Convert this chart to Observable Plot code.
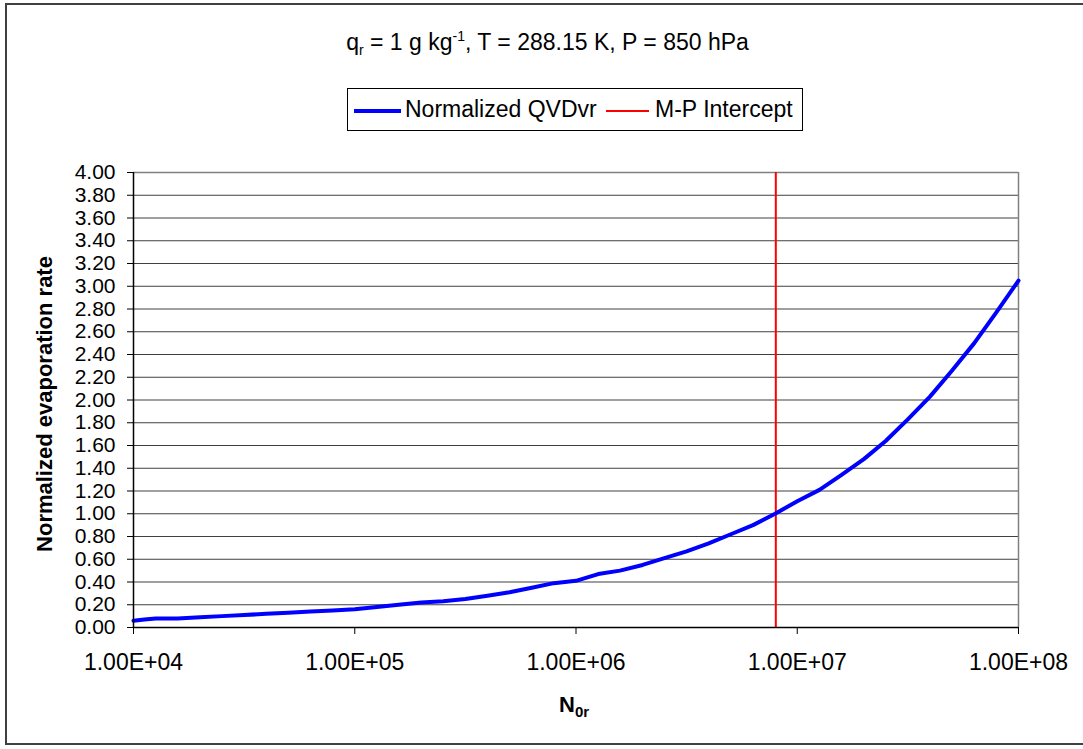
<!DOCTYPE html>
<html>
<head>
<meta charset="utf-8">
<script src="https://cdn.jsdelivr.net/npm/d3@7"></script>
<script src="https://cdn.jsdelivr.net/npm/@observablehq/plot@0.6"></script>
<style>
  html, body { margin: 0; padding: 0; background: #fff; }
  body { width: 1083px; height: 749px; overflow: hidden; position: relative; font-family: "Liberation Sans", Arial, sans-serif; }
  #frame { position: absolute; left: 5px; top: 3px; width: 1100px; height: 742px; border: 2px solid #404040; box-sizing: border-box; }
  #chart { position: absolute; left: 0; top: 0; }
  #title { position: absolute; left: 0; width: 1095px; top: 28px; text-align: center; font-size: 23px; color: #000; white-space: nowrap; }
  #title sub { font-size: 14px; vertical-align: -5px; }
  #title sup { font-size: 14px; vertical-align: 9px; }
  #legend { position: absolute; left: 347px; top: 88px; width: 456px; height: 43px; border: 1px solid #000; box-sizing: border-box; background: #fff; font-size: 23px; }
  .sw { position: absolute; }
  .lt { position: absolute; top: 7px; white-space: nowrap; }
  #xlabel { position: absolute; left: 559px; top: 692px; font-size: 22px; font-weight: bold; white-space: nowrap; }
  #xlabel sub { font-size: 15px; vertical-align: -5px; }
</style>
</head>
<body>
<div id="frame"></div>
<div id="chart"></div>
<div id="title">q<sub>r</sub> = 1 g kg<sup>-1</sup>, T = 288.15 K, P = 850 hPa</div>
<div id="legend">
  <div class="sw" style="left:6px; top:20px; width:47px; height:4px; background:#0000ff;"></div>
  <div class="lt" style="left:57px;" id="lg1"></div>
  <div class="sw" style="left:258px; top:21px; width:43px; height:2px; background:#ff0000;"></div>
  <div class="lt" style="left:307px;" id="lg2"></div>
</div>
<div id="xlabel">N<sub>0r</sub></div>
<script>
// Data
const n0r = [1.00e4, 1.12e4, 1.26e4, 1.58e4, 2.00e4, 2.51e4, 3.16e4, 3.98e4, 5.01e4, 6.31e4, 7.94e4,
             1.00e5, 1.26e5, 1.58e5, 2.00e5, 2.51e5, 3.16e5, 3.98e5, 5.01e5, 6.31e5, 7.94e5,
             1.00e6, 1.26e6, 1.58e6, 2.00e6, 2.51e6, 3.16e6, 3.98e6, 5.01e6, 6.31e6, 7.94e6,
             1.00e7, 1.26e7, 1.58e7, 2.00e7, 2.51e7, 3.16e7, 3.98e7, 5.01e7, 6.31e7, 7.94e7, 1.00e8];
const qvdvr = [0.06, 0.07, 0.08, 0.08, 0.09, 0.10, 0.11, 0.12, 0.13, 0.14, 0.15,
               0.16, 0.18, 0.20, 0.22, 0.23, 0.25, 0.28, 0.31, 0.35, 0.39,
               0.41, 0.47, 0.50, 0.55, 0.61, 0.67, 0.74, 0.82, 0.90, 1.00,
               1.11, 1.21, 1.34, 1.48, 1.64, 1.83, 2.03, 2.26, 2.50, 2.77, 3.05];
const mpIntercept = [8.0e6];
const seriesNames = ["Normalized QVDvr", "M-P Intercept"];
const xTicks = [1e4, 1e5, 1e6, 1e7, 1e8];
const xTickLabels = ["1.00E+04", "1.00E+05", "1.00E+06", "1.00E+07", "1.00E+08"];
const yTicks = d3.range(0, 21).map(i => i / 5);
const yLabel = "Normalized evaporation rate";

document.getElementById("lg1").textContent = seriesNames[0];
document.getElementById("lg2").textContent = seriesNames[1];

const data = n0r.map((n, i) => ({n, v: qvdvr[i]}));

const chart = Plot.plot({
  width: 1083,
  height: 749,
  marginLeft: 133,
  marginRight: 65,
  marginTop: 172,
  marginBottom: 122,
  style: {fontFamily: "'Liberation Sans', Arial, sans-serif", background: "transparent", color: "#000"},
  x: {type: "log", domain: [1e4, 1e8]},
  y: {domain: [0, 4]},
  marks: [
    Plot.ruleY(yTicks.slice(1, -1), {stroke: "#404040", strokeWidth: 1}),
    Plot.ruleY([4], {stroke: "#808080", strokeWidth: 1.5}),
    Plot.ruleX([1e8], {stroke: "#808080", strokeWidth: 1.5}),
    Plot.ruleX(mpIntercept, {stroke: "#ff0000", strokeWidth: 2}),
    Plot.line(data, {x: "n", y: "v", stroke: "#0000ff", strokeWidth: 4, strokeLinejoin: "round"}),
    Plot.ruleY([0], {stroke: "#000", strokeWidth: 1.5}),
    Plot.ruleX([1e4], {stroke: "#000", strokeWidth: 1.5}),
    Plot.axisX({ticks: xTicks, tickFormat: d => xTickLabels[xTicks.indexOf(d)], tickSize: 7, tickPadding: 19, fontSize: 23, label: null, stroke: "#000"}),
    Plot.axisY({ticks: yTicks, tickFormat: d3.format(".2f"), tickSize: 6, tickPadding: 12, fontSize: 21, label: null, stroke: "#000"}),
    Plot.text([yLabel], {frameAnchor: "left", textAnchor: "middle", rotate: -90, dx: -89, dy: 4, fontSize: 22, fontWeight: "bold", fill: "#000"})
  ]
});
document.getElementById("chart").appendChild(chart);
</script>
</body>
</html>
